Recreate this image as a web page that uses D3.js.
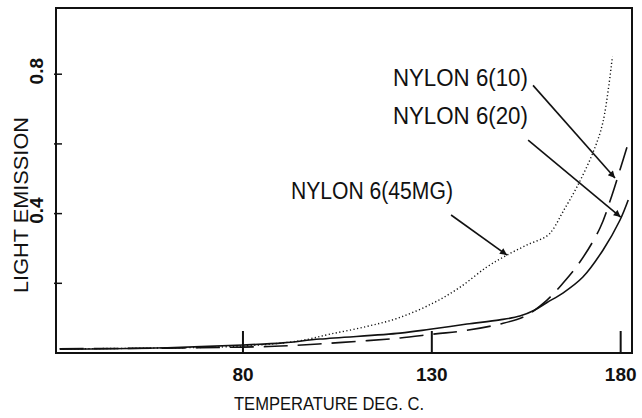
<!DOCTYPE html>
<html>
<head>
<meta charset="utf-8">
<script src="https://cdn.jsdelivr.net/npm/d3@7"></script>
<style>
  body { margin: 0; background: #fff; }
  text { font-family: "Liberation Sans", Arial, sans-serif; fill: #111; }
</style>
</head>
<body>
<svg id="chart" width="642" height="418"></svg>
<script>
// NYLON 6(10) - long dashed curve
const nylon10Temp = [31.5, 45, 60, 80, 90, 100, 111, 121.6, 131, 138, 148, 154.7, 160.5, 164.7, 169.2, 174.5, 177.7, 179.8, 182]
const nylon10Values = [0.012, 0.013, 0.014, 0.017, 0.02, 0.026, 0.034, 0.043, 0.055, 0.063, 0.083, 0.106, 0.152, 0.2, 0.261, 0.358, 0.453, 0.525, 0.602]

// NYLON 6(20) - solid curve
const nylon20Temp = [31.5, 45, 60, 80, 90.6, 100.4, 121.6, 129.5, 139.3, 148, 153.3, 157, 160.5, 164.7, 170, 175.3, 179.8, 182]
const nylon20Values = [0.011, 0.012, 0.015, 0.023, 0.029, 0.04, 0.057, 0.068, 0.083, 0.095, 0.106, 0.122, 0.145, 0.172, 0.218, 0.295, 0.381, 0.439]

// NYLON 6(45MG) - dotted curve
const nylon45Temp = [31.5, 55, 80, 95, 103, 112.3, 121, 130.3, 137.5, 144.6, 149.9, 155.2, 160.5, 162.1, 164.7, 168.4, 172.7, 175.3, 177.8]
const nylon45Values = [0.012, 0.014, 0.02, 0.035, 0.054, 0.075, 0.1, 0.143, 0.189, 0.247, 0.281, 0.31, 0.336, 0.355, 0.405, 0.476, 0.576, 0.662, 0.85]

const xTicks = [80, 130, 180]
const yTicks = [0.2, 0.4, 0.6, 0.8]
const yTickLabels = ['0.4', '0.8']

// label text, label anchor [temp, value], arrow start, arrow end
const labelNames = ['NYLON 6(10)', 'NYLON 6(20)', 'NYLON 6(45MG)']
const labelAt = [[119.7, 0.766], [119.7, 0.657], [92.7, 0.442]]
const arrowFrom = [[156.8, 0.768], [155.5, 0.611], [135.1, 0.396]]
const arrowTo = [[178.5, 0.502], [180, 0.39], [149.9, 0.281]]

const svg = d3.select('#chart')
const plotLeft = 56, plotRight = 632, plotTop = 8, plotBottom = 353
const ink = '#111'

const x = d3.scaleLinear().domain([30.5, 183]).range([plotLeft, plotRight])
const y = d3.scaleLinear().domain([0, 0.99]).range([plotBottom, plotTop])

svg.append('defs').append('marker')
    .attr('id', 'head')
    .attr('viewBox', '0 0 10 10')
    .attr('refX', 10)
    .attr('refY', 5)
    .attr('markerWidth', 9)
    .attr('markerHeight', 7)
    .attr('markerUnits', 'userSpaceOnUse')
    .attr('orient', 'auto')
  .append('path')
    .attr('d', 'M0,0 L10,5 L0,10 z')
    .attr('fill', ink)

/* Frame */
svg.append('rect')
    .attr('x', plotLeft)
    .attr('y', plotTop)
    .attr('width', plotRight - plotLeft)
    .attr('height', plotBottom - plotTop)
    .attr('fill', 'none')
    .attr('stroke', ink)
    .attr('stroke-width', 2)

// x ticks point up from the bottom edge
svg.append('g')
  .selectAll('line')
  .data(xTicks)
  .join('line')
    .attr('x1', d => x(d))
    .attr('x2', d => x(d))
    .attr('y1', plotBottom)
    .attr('y2', plotBottom - 22)
    .attr('stroke', ink)
    .attr('stroke-width', 2)

svg.append('g')
  .selectAll('text')
  .data(xTicks)
  .join('text')
    .attr('x', d => x(d))
    .attr('y', 381)
    .attr('text-anchor', 'middle')
    .attr('font-size', 19)
    .attr('font-weight', 'bold')
    .text(d => d)

// y ticks point right from the left edge
svg.append('g')
  .selectAll('line')
  .data(yTicks)
  .join('line')
    .attr('x1', plotLeft - 2)
    .attr('x2', plotLeft + 6)
    .attr('y1', d => y(d))
    .attr('y2', d => y(d))
    .attr('stroke', ink)
    .attr('stroke-width', 1.5)

svg.append('g')
  .selectAll('text')
  .data(yTickLabels)
  .join('text')
    .attr('transform', d => `translate(43,${y(+d) - 3}) rotate(-90)`)
    .attr('text-anchor', 'middle')
    .attr('font-size', 19)
    .attr('font-weight', 'bold')
    .text(d => d)

// axis titles
svg.append('text')
    .attr('x', 234)
    .attr('y', 410)
    .attr('font-size', 19)
    .attr('textLength', 190)
    .attr('lengthAdjust', 'spacingAndGlyphs')
    .text('TEMPERATURE DEG. C.')

svg.append('text')
    .attr('transform', 'translate(28,205) rotate(-90)')
    .attr('text-anchor', 'middle')
    .attr('font-size', 21)
    .attr('textLength', 176)
    .attr('lengthAdjust', 'spacingAndGlyphs')
    .text('LIGHT EMISSION')

/* Curves */
const line = d3.line()
    .x(d => x(d[0]))
    .y(d => y(d[1]))
    .curve(d3.curveCatmullRom.alpha(0.5))

const series = [
  { temp: nylon10Temp, values: nylon10Values, dash: '24,10', width: 1.6 },
  { temp: nylon20Temp, values: nylon20Values, dash: null, width: 1.6 },
  { temp: nylon45Temp, values: nylon45Values, dash: '1.2,2.4', width: 1.4 }
]

series.forEach(s => {
  svg.append('path')
      .datum(d3.zip(s.temp, s.values))
      .attr('d', line)
      .attr('fill', 'none')
      .attr('stroke', ink)
      .attr('stroke-width', s.width)
      .attr('stroke-dasharray', s.dash)
})

/* Labels and arrows */
const labelWidths = [135, 135, 162]
labelNames.forEach((name, i) => {
  svg.append('text')
      .attr('x', x(labelAt[i][0]))
      .attr('y', y(labelAt[i][1]))
      .attr('font-size', 23)
      .attr('textLength', labelWidths[i])
      .attr('lengthAdjust', 'spacingAndGlyphs')
      .text(name)

  svg.append('line')
      .attr('x1', x(arrowFrom[i][0]))
      .attr('y1', y(arrowFrom[i][1]))
      .attr('x2', x(arrowTo[i][0]))
      .attr('y2', y(arrowTo[i][1]))
      .attr('stroke', ink)
      .attr('stroke-width', 1.6)
      .attr('marker-end', 'url(#head)')
})
</script>
</body>
</html>
